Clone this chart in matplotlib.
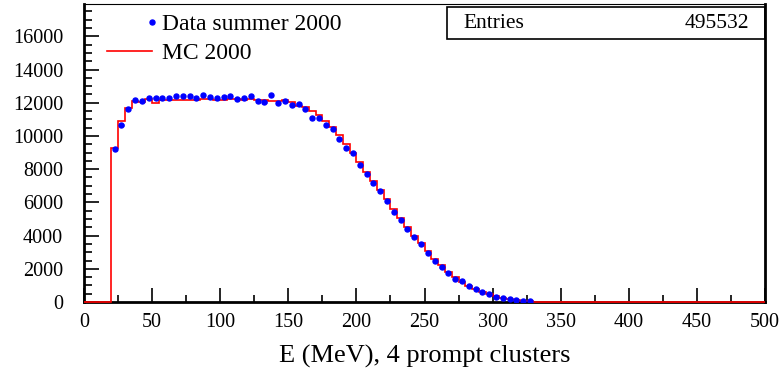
import numpy as np
import matplotlib
matplotlib.use("Agg")
import matplotlib.pyplot as plt
from matplotlib.lines import Line2D
from matplotlib.legend_handler import HandlerLine2D
from matplotlib.ticker import MultipleLocator

plt.rcParams['font.family'] = ['Liberation Serif', 'DejaVu Serif']

# histogram binning, 5 MeV bins
bin_edges = np.arange(0, 505, 5)

# MC 2000, bin contents from 20 MeV to 340 MeV (rest is zero)
mc_start = 20
mc_counts = [9300, 10900, 11700, 12100, 12050, 12220, 11980, 12150, 12150, 12150,
             12150, 12150, 12150, 12200, 12200, 12150, 12150, 12200, 12200, 12150,
             12200, 12150, 12150, 12100, 12100, 12150, 12050, 11800, 11750, 11500,
             11250, 10900, 10550, 10050, 9500, 9000, 8450, 7850, 7300, 6750,
             6200, 5600, 5050, 4500, 4000, 3550, 3050, 2620, 2200, 1820,
             1500, 1220, 980, 780, 600, 460, 340, 250, 180, 120,
             80, 50, 30, 15]

# Data summer 2000, bin centers and counts
data_x = [22.5, 27.5, 32.5, 37.5, 42.5, 47.5, 52.5, 57.5, 62.5, 67.5,
          72.5, 77.5, 82.5, 87.5, 92.5, 97.5, 102.5, 107.5, 112.5, 117.5,
          122.5, 127.5, 132.5, 137.5, 142.5, 147.5, 152.5, 157.5, 162.5, 167.5,
          172.5, 177.5, 182.5, 187.5, 192.5, 197.5, 202.5, 207.5, 212.5, 217.5,
          222.5, 227.5, 232.5, 237.5, 242.5, 247.5, 252.5, 257.5, 262.5, 267.5,
          272.5, 277.5, 282.5, 287.5, 292.5, 297.5, 302.5, 307.5, 312.5, 317.5,
          322.5, 327.5]
data_y = [9200, 10680, 11630, 12150, 12120, 12310, 12310, 12270, 12270, 12410,
          12410, 12410, 12310, 12470, 12370, 12310, 12370, 12410, 12250, 12310,
          12410, 12110, 12050, 12470, 11990, 12110, 11870, 11930, 11600, 11080,
          11100, 10640, 10440, 9790, 9250, 8950, 8280, 7740, 7180, 6670,
          6100, 5440, 4940, 4410, 3910, 3510, 2940, 2500, 2130, 1730,
          1390, 1270, 970, 790, 590, 470, 320, 260, 160, 120,
          80, 40]

entries = "495532"

mc_full = np.zeros(len(bin_edges) - 1)
i0 = mc_start // 5
mc_full[i0:i0 + len(mc_counts)] = mc_counts


class RightMarkerHandler(HandlerLine2D):
    # ROOT style legend: marker sits at the right end of the handle
    def create_artists(self, *args, **kwargs):
        arts = super().create_artists(*args, **kwargs)
        for a in arts:
            a.set_markevery([2])
        return arts


fig = plt.figure(figsize=(7.8, 3.74), dpi=100)
ax = fig.add_axes([0.1077, 0.1925, 0.8731, 0.7968])

mc = ax.stairs(mc_full, bin_edges, color='red', linewidth=1.2, label='MC 2000',
               zorder=3, clip_on=False)
ax.errorbar(data_x, data_y, xerr=1.5, fmt='o', ms=3.6, color='blue',
            elinewidth=1.8, capsize=0, zorder=4)

ax.set_xlim(0, 500)
ax.set_ylim(0, 17950)
ax.xaxis.set_major_locator(MultipleLocator(50))
ax.xaxis.set_minor_locator(MultipleLocator(25))
ax.yaxis.set_major_locator(MultipleLocator(2000))
ax.yaxis.set_minor_locator(MultipleLocator(500))
ax.tick_params(axis='both', which='both', direction='in', top=False, right=False,
               labelsize=14.5, width=1.2)
ax.tick_params(axis='x', which='major', length=10, pad=8)
ax.tick_params(axis='x', which='minor', length=5)
ax.tick_params(axis='y', which='major', length=11, pad=15)
ax.tick_params(axis='y', which='minor', length=6)
for s in ['left', 'bottom', 'right']:
    ax.spines[s].set_linewidth(2)
ax.spines['top'].set_linewidth(0.8)

ax.set_xlabel('E (MeV), 4 prompt clusters', fontsize=19, labelpad=9)

# legend
data_handle = Line2D([], [], marker='o', ms=3.6, color='blue', ls='none')
leg = ax.legend([data_handle, mc], ['Data summer 2000', 'MC 2000'],
                handler_map={data_handle: RightMarkerHandler(numpoints=1)},
                loc='upper left', bbox_to_anchor=(0.034, 0.968), borderaxespad=0,
                borderpad=0, frameon=False, fontsize=17, handlelength=1.9,
                handletextpad=0.42, labelspacing=0.31)

# stats box
ax.add_patch(plt.Rectangle((0.533, 0.8826), 0.467, 0.108, transform=ax.transAxes,
                           fill=False, edgecolor='black', linewidth=1.2, clip_on=False))
ax.text(0.557, 0.936, 'Entries', transform=ax.transAxes, fontsize=15.5, va='center', ha='left')
ax.text(0.977, 0.936, entries, transform=ax.transAxes, fontsize=15.5, va='center', ha='right')

fig.savefig('out.png', dpi=100)
